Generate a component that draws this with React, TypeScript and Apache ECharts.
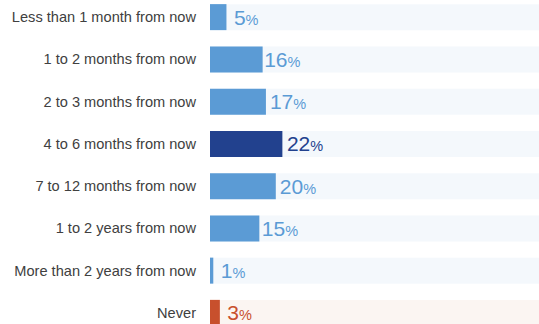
import React, { useEffect, useRef } from "react";
import * as echarts from "echarts";

const categories = [
  "Less than 1 month from now",
  "1 to 2 months from now",
  "2 to 3 months from now",
  "4 to 6 months from now",
  "7 to 12 months from now",
  "1 to 2 years from now",
  "More than 2 years from now",
  "Never",
];
const values = [5, 16, 17, 22, 20, 15, 1, 3];
const barColors = ["#5b9bd5", "#5b9bd5", "#5b9bd5", "#22418e", "#5b9bd5", "#5b9bd5", "#5b9bd5", "#c8502d"];
const trackColors = ["#f4f8fc", "#f4f8fc", "#f4f8fc", "#f4f8fc", "#f4f8fc", "#f4f8fc", "#f4f8fc", "#fbf5f2"];
const labelGaps = [7.5, 1.5, 4, 4.5, 4, 2.5, 7.5, 7.5];
const maxValue = 100;

export default function App() {
  const ref = useRef<HTMLDivElement>(null);
  useEffect(() => {
    if (!ref.current) return;
    const chart = echarts.init(ref.current, undefined, { renderer: "svg" });
    chart.setOption({
      animation: false,
      grid: { left: 210, right: 0, top: 0, bottom: 0, containLabel: false },
      xAxis: {
        type: "value",
        min: 0,
        max: maxValue,
        show: false,
      },
      yAxis: {
        type: "category",
        data: categories,
        inverse: true,
        axisLine: { show: false },
        axisTick: { show: false },
        splitLine: { show: false },
        axisLabel: {
          margin: 14,
          color: "#404040",
          fontSize: 14.6,
          fontFamily: "'Liberation Sans', Arial, sans-serif",
        },
      },
      series: [
        {
          type: "bar",
          barWidth: 26,
          silent: true,
          z: 1,
          data: categories.map((_, i) => ({
            value: maxValue,
            itemStyle: { color: trackColors[i] },
          })),
        },
        {
          type: "bar",
          barWidth: 26,
          barGap: "-100%",
          z: 2,
          data: values.map((v, i) => ({
            value: v,
            itemStyle: { color: barColors[i] },
            label: {
              show: true,
              position: "right",
              distance: labelGaps[i],
              formatter: "{n|{c}}{p|%}",
              rich: {
                n: { fontSize: 21, color: barColors[i], fontFamily: "'Liberation Sans', Arial, sans-serif" },
                p: { fontSize: 14.5, color: barColors[i], fontFamily: "'Liberation Sans', Arial, sans-serif", padding: [5, 0, 0, 0] },
              },
            },
          })),
        },
      ],
    });
    return () => chart.dispose();
  }, []);
  return (
    <div style={{ position: "fixed", left: 0, top: 0, width: 539, height: 324, overflow: "hidden", background: "#fff" }}>
      <div
        ref={ref}
        style={{ position: "absolute", left: 0, top: -4.15, width: 539, height: 338.4 }}
      />
    </div>
  );
}
